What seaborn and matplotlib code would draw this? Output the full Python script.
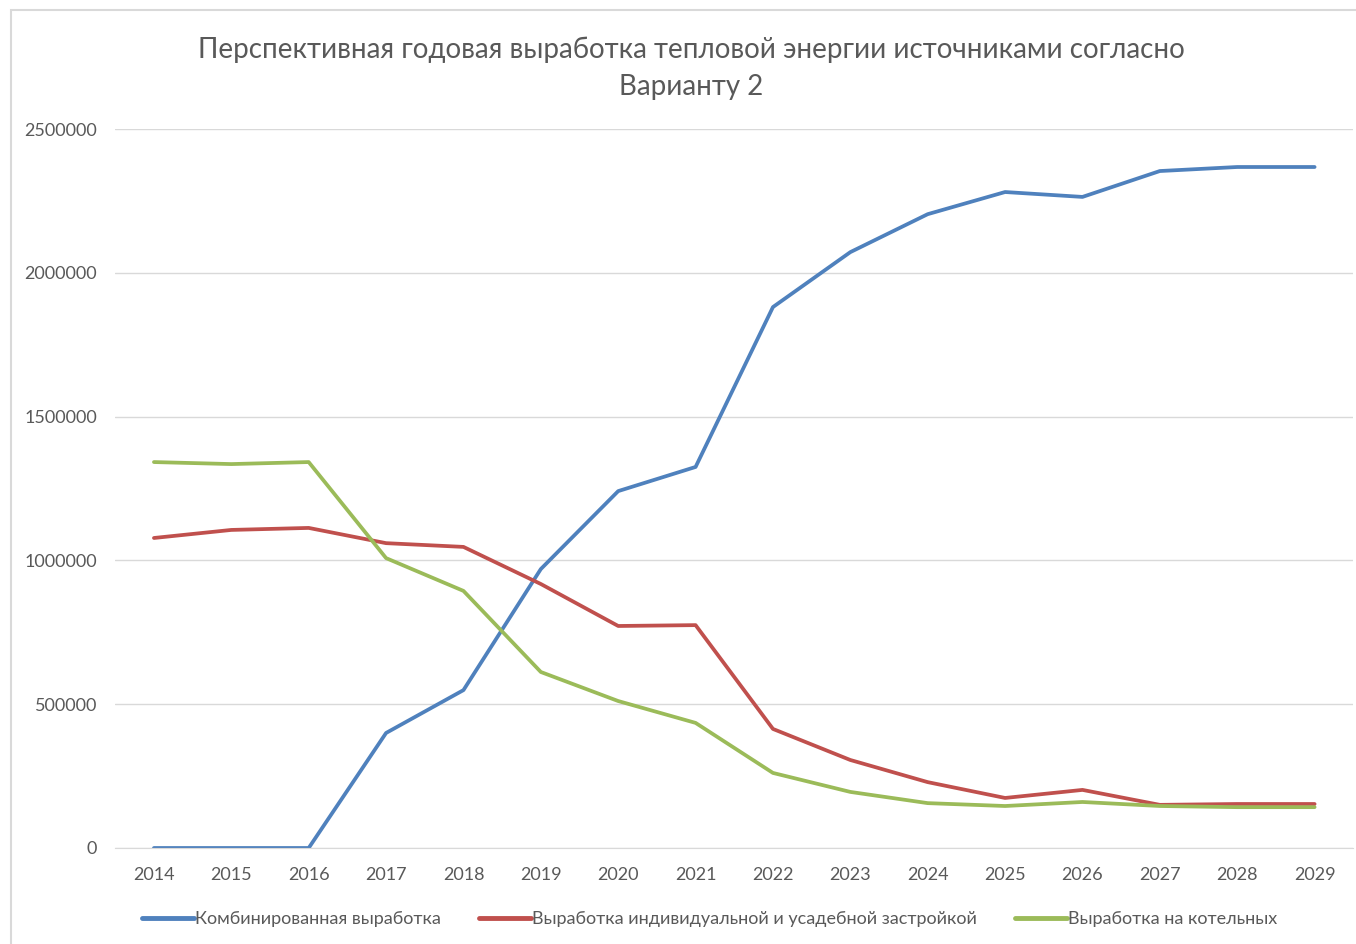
import pandas as pd
import numpy as np
import seaborn as sns
import matplotlib.pyplot as plt
from matplotlib.patches import Rectangle

# Данные графика
years = list(range(2014, 2030))
combined = [0, 0, 0, 400000, 549000, 970000, 1241000, 1325000, 1881000, 2072000,
            2204000, 2281000, 2264000, 2354000, 2368000, 2368000]
individual = [1078000, 1106000, 1113000, 1060000, 1047000, 918000, 772000, 775000,
              414000, 306000, 229000, 174000, 202000, 150000, 153000, 153000]
boilers = [1342000, 1335000, 1342000, 1008000, 894000, 612000, 511000, 435000,
           261000, 195000, 156000, 146000, 160000, 146000, 142000, 142000]
series_names = ['Комбинированная выработка',
                'Выработка индивидуальной и усадебной застройкой',
                'Выработка на котельных']
colors = ['#4F81BD', '#C0504D', '#9BBB59']

df = pd.DataFrame({
    'year': years * 3,
    'value': combined + individual + boilers,
    'series': [series_names[0]] * 16 + [series_names[1]] * 16 + [series_names[2]] * 16,
})

sns.set_style('white')
plt.rcParams['font.family'] = ['Lato', 'DejaVu Sans']

fig = plt.figure(figsize=(13.56, 9.44), dpi=100)
ax = fig.add_axes([0.085, 0.1017, 0.913, 0.7616])

sns.lineplot(data=df, x='year', y='value', hue='series', palette=colors,
             linewidth=2.7, ax=ax, legend=True)

ax.set_xlim(2013.5, 2029.5)
ax.set_ylim(0, 2500000)
ax.set_xticks(years)
ax.set_yticks(range(0, 2500001, 500000))
ax.set_yticklabels([str(v) for v in range(0, 2500001, 500000)])
ax.yaxis.grid(True, color='#D9D9D9', linewidth=1)
ax.set_axisbelow(True)
for s in ['top', 'right', 'left']:
    ax.spines[s].set_visible(False)
ax.spines['bottom'].set_color('#D9D9D9')
ax.tick_params(axis='both', length=0, labelsize=13, colors='#595959')
ax.tick_params(axis='x', pad=14)
ax.tick_params(axis='y', pad=13)
ax.set_xlabel('')
ax.set_ylabel('')

fig.suptitle('Перспективная годовая выработка тепловой энергии источниками согласно\nВарианту 2',
             x=0.51, y=0.961, fontsize=20, color='#595959', linespacing=1.5)

leg = ax.legend(loc='upper center', bbox_to_anchor=(0.48, -0.065), ncol=3, frameon=False,
                fontsize=13, handlelength=2.9, handletextpad=0.05, columnspacing=2.1)
for t in leg.get_texts():
    t.set_color('#595959')
for h in leg.get_lines():
    h.set_linewidth(3.5)

# рамка диаграммы
fig.patches.append(Rectangle((0.008, -0.01), 1.1, 0.999, transform=fig.transFigure,
                             fill=False, edgecolor='#D9D9D9', linewidth=1.5))

fig.savefig('out.png', dpi=100)
